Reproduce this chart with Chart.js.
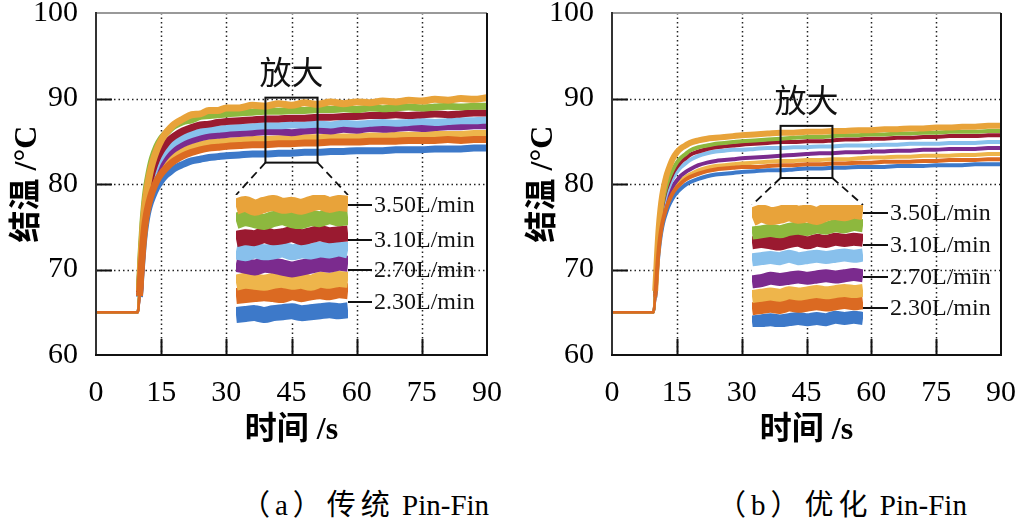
<!DOCTYPE html>
<html><head><meta charset="utf-8">
<script src="https://cdn.jsdelivr.net/npm/chart.js@4.4.1/dist/chart.umd.min.js"></script>
<style>
html,body{margin:0;padding:0;background:#fff;}
#wrap{position:relative;width:1017px;height:523px;overflow:hidden;background:#fff;}
canvas{position:absolute;}
.cap{position:absolute;top:481px;font:29px "Liberation Serif","Noto Sans CJK SC";color:#000;white-space:nowrap;transform:translateX(-50%);}
.cap span{letter-spacing:5px;}
</style></head><body>
<div id="wrap">
<canvas id="ca" width="520" height="470" style="left:0;top:0;z-index:1"></canvas>
<canvas id="cb" width="512" height="470" style="left:505px;top:0;z-index:1"></canvas>
<canvas id="ia" width="112" height="128" style="left:236px;top:195px;z-index:3"></canvas>
<canvas id="ib" width="111" height="122" style="left:752px;top:205px;z-index:3"></canvas>
<div class="cap" style="left:365px"><span>（a）传统</span> Pin-Fin</div>
<div class="cap" style="left:842px"><span>（b）优化</span> Pin-Fin</div>
</div>
<script>
// ---------- data ----------
const time=[0,3,6,9,9.6,10,10.4,10.8,11.2,11.6,12,12.5,13,14,15,16,17,18,20,22,24,26,28,30,33,36,39,42,45,48,51,54,57,60,63,66,69,72,75,78,81,84,87,90];
const xTicks=[0,15,30,45,60,75,90];
const yTicks=[60,70,80,90,100];
const flowLabels=['3.50L/min','3.10L/min','2.70L/min','2.30L/min'];

// panel (a) 传统 Pin-Fin
const aGold  =[65,65,65,65,65,67.5,71.5,74.8,77.2,78.9,80.2,81.5,82.5,84.0,85.1,85.9,86.5,87.0,87.6,88.1,88.2,88.6,88.6,88.9,88.9,89.2,89.1,89.4,89.2,89.5,89.3,89.6,89.4,89.6,89.5,89.7,89.6,89.8,89.7,89.9,89.8,90.0,89.9,90.1];
const aGreen =[65,65,65,65,65,67.8,72.0,75.4,77.8,79.5,80.7,82.0,83.0,84.4,85.3,85.9,86.4,86.8,87.3,87.5,87.9,88.0,88.1,88.2,88.3,88.4,88.5,88.5,88.6,88.6,88.7,88.7,88.8,88.7,88.9,88.8,88.9,89.0,88.9,89.0,89.1,89.0,89.1,89.1];
const aRed   =[65,65,65,65,65,67.3,71.0,74.2,76.5,78.1,79.3,80.5,81.5,82.9,83.9,84.6,85.2,85.6,86.2,86.6,86.9,87.0,87.2,87.3,87.4,87.5,87.6,87.6,87.7,87.7,87.8,87.8,87.9,87.9,88.0,88.0,88.1,88.0,88.1,88.2,88.1,88.2,88.3,88.3];
const aSky   =[65,65,65,65,65,67.2,70.8,73.9,76.1,77.7,78.8,80.0,80.9,82.3,83.2,83.9,84.4,84.8,85.4,85.8,86.1,86.3,86.4,86.5,86.6,86.7,86.8,86.8,86.9,86.9,87.0,86.9,87.1,87.0,87.1,87.2,87.1,87.2,87.3,87.2,87.3,87.4,87.4,87.5];
const aPurple=[65,65,65,65,65,67.1,70.5,73.5,75.7,77.2,78.3,79.4,80.3,81.6,82.5,83.2,83.7,84.1,84.7,85.1,85.4,85.6,85.7,85.8,85.9,86.0,86.1,86.1,86.0,86.2,86.3,86.2,86.4,86.3,86.5,86.4,86.5,86.6,86.5,86.6,86.7,86.7,86.8,86.8];
const aAmber =[65,65,65,65,65,67.0,70.3,73.2,75.3,76.8,77.8,78.9,79.7,80.9,81.8,82.4,82.9,83.3,83.9,84.3,84.6,84.8,84.9,85.0,85.1,85.2,85.2,85.3,85.3,85.4,85.4,85.5,85.5,85.5,85.6,85.6,85.7,85.7,85.7,85.8,85.8,85.8,85.9,85.9];
const aOrange=[65,65,65,65,65,66.9,70.1,72.9,75.0,76.4,77.4,78.4,79.2,80.4,81.2,81.8,82.3,82.7,83.3,83.7,84.0,84.2,84.3,84.4,84.5,84.6,84.6,84.7,84.7,84.8,84.8,84.9,84.9,84.9,85.0,85.0,85.0,85.1,85.1,85.1,85.2,85.1,85.2,85.2];
const aBlue  =[65,65,65,65,65,66.8,69.8,72.5,74.5,75.9,76.9,77.8,78.5,79.6,80.4,81.0,81.4,81.8,82.3,82.7,82.9,83.1,83.2,83.3,83.4,83.5,83.5,83.6,83.6,83.7,83.7,83.8,83.8,83.9,83.9,83.9,84.0,84.0,84.0,84.1,84.1,84.1,84.2,84.2];

// panel (b) 优化 Pin-Fin
const bGold  =[65,65,65,65,65,67.5,71.5,74.8,77.0,78.6,79.7,80.8,81.6,82.9,83.7,84.2,84.5,84.8,85.1,85.3,85.4,85.5,85.6,85.7,85.8,85.9,86.0,86.0,86.1,86.1,86.2,86.2,86.3,86.3,86.4,86.4,86.5,86.5,86.6,86.6,86.7,86.7,86.8,86.8];
const bGreen =[65,65,65,65,65,67.3,71.0,74.0,76.1,77.6,78.6,79.6,80.4,81.6,82.5,83.1,83.5,83.9,84.3,84.5,84.7,84.8,84.9,85.0,85.1,85.2,85.3,85.4,85.5,85.5,85.6,85.7,85.7,85.8,85.8,85.9,85.9,86.0,86.0,86.1,86.1,86.1,86.2,86.2];
const bRed   =[65,65,65,65,65,67.2,70.8,73.7,75.8,77.3,78.3,79.3,80.0,81.2,82.0,82.6,83.0,83.4,83.8,84.1,84.3,84.4,84.5,84.6,84.7,84.8,84.9,84.9,85.0,85.0,85.1,85.2,85.2,85.3,85.3,85.4,85.4,85.5,85.5,85.6,85.6,85.6,85.7,85.7];
const bSky   =[65,65,65,65,65,67.1,70.5,73.3,75.3,76.7,77.7,78.7,79.4,80.6,81.4,82.0,82.4,82.8,83.3,83.6,83.8,83.9,84.0,84.0,84.1,84.2,84.2,84.3,84.3,84.4,84.4,84.5,84.5,84.5,84.6,84.6,84.7,84.7,84.7,84.8,84.8,84.8,84.9,84.9];
const bPurple=[65,65,65,65,65,67.0,70.2,72.8,74.7,76.0,77.0,77.9,78.6,79.7,80.4,81.0,81.4,81.7,82.2,82.5,82.7,82.8,82.9,83.0,83.1,83.2,83.3,83.4,83.5,83.6,83.6,83.7,83.7,83.8,83.8,83.9,83.9,84.0,84.0,84.1,84.1,84.1,84.2,84.2];
const bAmber =[65,65,65,65,65,66.9,70.0,72.5,74.3,75.6,76.5,77.4,78.1,79.2,79.9,80.4,80.8,81.1,81.6,81.9,82.1,82.2,82.3,82.4,82.5,82.6,82.7,82.7,82.8,82.8,82.9,82.9,83.0,83.1,83.1,83.2,83.2,83.3,83.3,83.3,83.4,83.4,83.5,83.5];
const bOrange=[65,65,65,65,65,66.8,69.8,72.3,74.1,75.3,76.2,77.1,77.8,78.9,79.6,80.1,80.5,80.8,81.2,81.5,81.7,81.8,81.9,82.0,82.0,82.1,82.2,82.2,82.3,82.3,82.4,82.4,82.5,82.5,82.6,82.6,82.6,82.7,82.7,82.8,82.8,82.8,82.9,82.9];
const bBlue  =[65,65,65,65,65,66.7,69.6,72.0,73.7,74.9,75.8,76.6,77.3,78.3,79.0,79.5,79.9,80.2,80.6,80.9,81.1,81.2,81.3,81.4,81.5,81.6,81.6,81.7,81.8,81.8,81.9,81.9,82.0,82.0,82.0,82.1,82.1,82.1,82.2,82.2,82.2,82.3,82.3,82.3];

// 放大 (zoomed) window, 39–51 s
const insetTime=[39,40,41,42,43,44,45,46,47,48,49,50,51];
const iaGold  =[89.2,89.35,89.15,89.3,89.4,89.25,89.3,89.2,89.35,89.45,89.3,89.4,89.35];
const iaGreen =[88.45,88.6,88.5,88.4,88.55,88.65,88.5,88.45,88.6,88.55,88.7,88.6,88.65];
const iaRed   =[87.5,87.6,87.55,87.7,87.6,87.65,87.75,87.6,87.7,87.8,87.7,87.75,87.8];
const iaSky   =[86.85,86.75,86.9,86.8,86.85,86.95,86.8,86.9,86.85,86.95,86.9,87.0,86.9];
const iaPurple=[86.2,86.1,86.0,86.15,86.1,86.0,85.9,86.0,86.1,86.2,86.15,86.25,86.2];
const iaAmber =[85.2,85.3,85.25,85.2,85.3,85.35,85.25,85.3,85.2,85.35,85.3,85.4,85.35];
const iaOrange=[84.5,84.55,84.6,84.65,84.6,84.55,84.7,84.6,84.7,84.75,84.7,84.8,84.75];
const iaBlue  =[83.5,83.55,83.6,83.5,83.6,83.65,83.7,83.6,83.65,83.7,83.75,83.7,83.75];
const ibGold  =[86.0,86.15,86.05,86.1,86.2,86.1,86.15,86.05,86.2,86.25,86.2,86.3,86.25];
const ibGreen =[85.35,85.4,85.45,85.4,85.5,85.55,85.5,85.6,85.55,85.65,85.6,85.7,85.65];
const ibRed   =[84.95,85.0,84.95,84.9,85.0,85.05,84.95,85.05,85.0,85.1,85.05,85.1,85.05];
const ibSky   =[84.25,84.3,84.35,84.3,84.4,84.3,84.35,84.4,84.35,84.4,84.45,84.4,84.45];
const ibPurple=[83.35,83.4,83.5,83.45,83.5,83.55,83.5,83.55,83.6,83.55,83.6,83.65,83.6];
const ibAmber =[82.75,82.8,82.85,82.8,82.9,82.85,82.9,82.95,82.9,82.95,83.0,82.95,83.0];
const ibOrange=[82.25,82.3,82.35,82.3,82.4,82.35,82.4,82.45,82.4,82.45,82.5,82.45,82.5];
const ibBlue  =[81.7,81.75,81.8,81.75,81.8,81.85,81.8,81.85,81.8,81.9,81.85,81.9,81.85];

// ---------- styles ----------
const seriesColors=['#E8A33A','#8DB83E','#9A1A30','#88C0EC','#7B2B8E','#EEB54B','#DB6A22','#3D79C9'];
const SERIF='"Liberation Serif","Noto Sans CJK SC"';

function seg(ctx,x0,y0,x1,y1){ctx.beginPath();ctx.moveTo(x0,y0);ctx.lineTo(x1,y1);ctx.stroke();}

const decor={
  id:'decor',
  beforeDatasetsDraw(chart,args,o){
    const {ctx,chartArea:a,scales:{x,y}}=chart;
    ctx.save();
    ctx.strokeStyle='#222';ctx.lineWidth=1.5;ctx.setLineDash([1.5,3]);
    xTicks.forEach(v=>{if(v<=x.min||v>=x.max)return;const p=Math.round(x.getPixelForValue(v))+0.5;seg(ctx,p,a.top,p,a.bottom);});
    yTicks.forEach(v=>{if(v<=y.min||v>=y.max)return;const p=Math.round(y.getPixelForValue(v))+0.5;seg(ctx,a.left,p,a.right,p);});
    ctx.restore();
  },
  afterDatasetsDraw(chart,args,o){
    const {ctx,chartArea:a,scales:{x,y}}=chart;
    ctx.save();
    // inward tick marks
    ctx.strokeStyle='#111';ctx.lineWidth=2;ctx.setLineDash([]);
    xTicks.forEach(v=>{if(v<=x.min||v>=x.max)return;const p=Math.round(x.getPixelForValue(v))+0.5;seg(ctx,p,a.bottom,p,a.bottom-16);});
    yTicks.forEach(v=>{if(v<=y.min||v>=y.max)return;const p=Math.round(y.getPixelForValue(v))+0.5;seg(ctx,a.left,p,a.left+16,p);});
    // frame
    ctx.lineWidth=2;
    ctx.strokeStyle='#999';seg(ctx,a.left,a.top,a.right,a.top);
    ctx.strokeStyle='#111';seg(ctx,a.right,a.top,a.right,a.bottom);
    ctx.strokeStyle='#333';seg(ctx,a.left,a.top-1,a.left,a.bottom+1);
    ctx.strokeStyle='#111';seg(ctx,a.left-1,a.bottom,a.right+1,a.bottom);
    // zoom box
    const bx0=x.getPixelForValue(o.box[0]),bx1=x.getPixelForValue(o.box[1]);
    const by0=y.getPixelForValue(o.box[3]),by1=y.getPixelForValue(o.box[2]);
    ctx.strokeStyle='#111';ctx.lineWidth=2;ctx.strokeRect(bx0,by0,bx1-bx0,by1-by0);
    // connectors
    ctx.setLineDash([8,5]);ctx.lineWidth=1.8;
    seg(ctx,bx0,by1,o.inset[0],o.inset[1]);
    seg(ctx,bx1,by1,o.inset[2],o.inset[1]);
    ctx.setLineDash([]);
    // 放大
    ctx.fillStyle='#111';ctx.font='32px "Noto Sans CJK SC"';ctx.textAlign='center';ctx.textBaseline='middle';
    ctx.fillText('放大',(bx0+bx1)/2,o.zoomTextY);
    // flow labels
    ctx.font='24px "Liberation Serif"';ctx.textAlign='left';ctx.lineWidth=2;
    o.labelY.forEach((ly,i)=>{seg(ctx,o.lineX[0],ly,o.lineX[1],ly);ctx.fillText(flowLabels[i],o.lineX[1]+2,ly+1);});
    ctx.restore();
  }
};

function mainChart(id,series,widths,cfg){
  const datasets=series.map((arr,i)=>({
    data:time.map((t,k)=>({x:t,y:arr[k]})),
    borderColor:seriesColors[i],borderWidth:widths[i],
    pointRadius:0,cubicInterpolationMode:'monotone',
    borderJoinStyle:'round',borderCapStyle:'butt',
    order:i===6?-1:i,
    segment:{borderWidth:c=>c.p1.parsed.x<=10?2.6:undefined}
  }));
  return new Chart(document.getElementById(id),{
    type:'line',data:{datasets},
    options:{
      responsive:false,animation:false,events:[],
      layout:{padding:{top:13,right:cfg.padRight,left:0,bottom:0}},
      plugins:{legend:{display:false},tooltip:{enabled:false},decor:cfg},
      scales:{
        x:{type:'linear',min:0,max:90,
          afterBuildTicks:s=>{s.ticks=xTicks.map(v=>({value:v}));},
          grid:{display:false},border:{display:false},
          ticks:{font:{family:'"Liberation Serif"',size:30},color:'#000',padding:12,maxRotation:0,autoSkip:false},
          title:{display:true,text:'时间 /s',font:{family:SERIF,size:32,weight:'bold'},color:'#000',padding:{top:0,bottom:20}},
          afterFit:s=>{s.height=115;s.paddingLeft=0;s.paddingRight=0;}
        },
        y:{type:'linear',min:60,max:100,
          afterBuildTicks:s=>{s.ticks=yTicks.map(v=>({value:v}));},
          grid:{display:false},border:{display:false},
          ticks:{font:{family:'"Liberation Serif"',size:30},color:'#000',padding:10,autoSkip:false},
          title:{display:true,text:'结温 /°C',font:{family:SERIF,size:32,weight:'bold'},color:'#000',padding:{top:cfg.yTitlePad,bottom:0}},
          afterFit:s=>{s.width=cfg.yWidth;s.paddingTop=0;s.paddingBottom=0;}
        }
      }
    },
    plugins:[decor]
  });
}

function insetChart(id,series,widths,yMin,yMax){
  return new Chart(document.getElementById(id),{
    type:'line',
    data:{datasets:series.map((arr,i)=>({
      data:insetTime.map((t,k)=>({x:t,y:arr[k]})),
      borderColor:seriesColors[i],borderWidth:widths[i],pointRadius:0,tension:0.3,
      borderJoinStyle:'round',order:i
    }))},
    options:{responsive:false,animation:false,events:[],layout:{padding:0},
      plugins:{legend:{display:false},tooltip:{enabled:false}},
      scales:{x:{type:'linear',min:39,max:51,display:false},y:{min:yMin,max:yMax,display:false}}},
    plugins:[{id:'bg',beforeDraw(c){c.ctx.save();c.ctx.fillStyle='#fff';c.ctx.fillRect(0,0,c.width,c.height);c.ctx.restore();}}]
  });
}

mainChart('ca',[aGold,aGreen,aRed,aSky,aPurple,aAmber,aOrange,aBlue],[7,7,7,7,7,7,7,7],
  {padRight:33,yWidth:96,yTitlePad:9,box:[39,51,82.5,90.1],inset:[236,195,348],zoomTextY:72,
   labelY:[205,240,270,302],lineX:[347,372]});
mainChart('cb',[bGold,bGreen,bRed,bSky,bPurple,bAmber,bOrange,bBlue],[6,4,4,4,4,4,4,4],
  {padRight:16,yWidth:107,yTitlePad:20,box:[39,51,80.7,86.8],inset:[247,205,358],zoomTextY:100,
   labelY:[213,245,277,308],lineX:[357,383]});
insetChart('ia',[iaGold,iaGreen,iaRed,iaSky,iaPurple,iaAmber,iaOrange,iaBlue],[16,16,16,16,16,16,16,16],83.08,89.82);
insetChart('ib',[ibGold,ibGreen,ibRed,ibSky,ibPurple,ibAmber,ibOrange,ibBlue],[18,13,13,13,13,13,13,13],81.5,86.5);
</script>
</body></html>
